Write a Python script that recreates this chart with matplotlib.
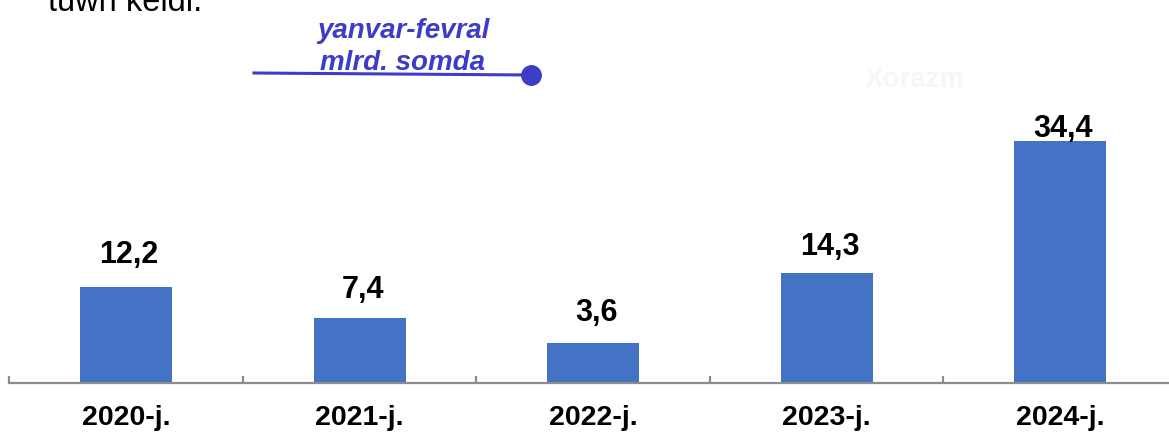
import numpy as np
import matplotlib.pyplot as plt
from matplotlib.lines import Line2D

plt.rcParams['font.family'] = ['Liberation Sans', 'DejaVu Sans']

years = ['2020-j.', '2021-j.', '2022-j.', '2023-j.', '2024-j.']
values = [12.2, 7.4, 3.6, 14.3, 34.4]
value_labels = ['12,2', '7,4', '3,6', '14,3', '34,4']
label_gaps = [24, 20, 22, 18, 4]  # pixels between bar top and label baseline
y_floor = -2.5  # value axis starts below zero, bars rise from it

W, H = 1169, 434
fig = plt.figure(figsize=(W / 100, H / 100), dpi=100)
ax = fig.add_axes([9.25 / W, 51 / H, (1177 - 9.25) / W, 383 / H])

x = np.arange(len(years))
ax.bar(x, np.array(values) - y_floor, bottom=y_floor, width=0.394,
       color='#4472c4', zorder=2)
ax.set_xlim(-0.5, len(years) - 0.5)
ax.set_ylim(y_floor, y_floor + 383 / 6.56)

for xi, v, lab, g in zip(x, values, value_labels, label_gaps):
    ax.annotate(lab, (xi, v), xytext=(3, g), textcoords='offset pixels',
                ha='center', va='baseline', fontsize=22, fontweight='bold',
                color='black')

for s in ['left', 'right', 'top']:
    ax.spines[s].set_visible(False)
ax.spines['bottom'].set_color('#8c8c8c')
ax.spines['bottom'].set_linewidth(1.6)
ax.spines['bottom'].set_zorder(3)
ax.set_yticks([])
ax.set_xticks(x)
ax.set_xticklabels(years, fontsize=20.5, fontweight='bold')
ax.tick_params(axis='x', length=0, pad=16)
ax.set_xticks(np.arange(-0.5, len(years), 1.0), minor=True)
ax.tick_params(axis='x', which='minor', direction='in', length=5,
               width=1.6, color='#8c8c8c')

# cut-off text from the page above
fig.text(48 / W, 1 - 11 / H, 'tuwn keldi.', fontsize=23.5, color='black',
         ha='left', va='baseline')

# faint watermark
fig.text(915 / W, 1 - 80 / H, 'Xorazm', fontsize=20, fontweight='bold',
         color='#f6f6f6', ha='center', va='center')

blue = '#3c3cc8'
fig.text(403 / W, 1 - 38 / H, 'yanvar-fevral', fontsize=20,
         fontweight='bold', style='italic', color=blue, ha='center',
         va='baseline')
fig.text(403 / W, 1 - 70 / H, 'mlrd. somda', fontsize=20,
         fontweight='bold', style='italic', color=blue, ha='center',
         va='baseline')
fig.add_artist(Line2D([254 / W, 531 / W], [1 - 73 / H, 1 - 75 / H],
                      transform=fig.transFigure, color=blue, lw=2.2,
                      marker='o', markersize=14, markevery=[1]))

fig.savefig('out.png', dpi=100)
